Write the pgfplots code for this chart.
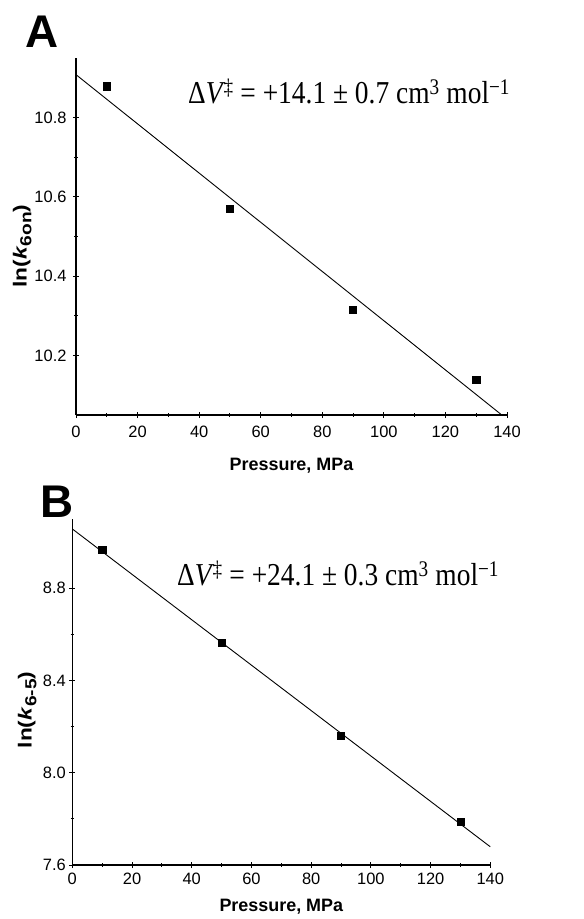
\documentclass[border=0pt]{standalone}
\usepackage{fontspec}
\setmainfont{Liberation Sans}
\newfontfamily\timesfont{Liberation Serif}
\usepackage{pgfplots}
\pgfplotsset{compat=1.18}

% common look of both panels
\pgfplotsset{
  panel/.style={
    scale only axis,
    axis lines=left,
    axis line style={-, line width=1.2bp},
    xmin=0, xmax=140,
    xtick={0,20,...,140},
    minor x tick num=1,
    minor y tick num=1,
    tick style={black, line width=1bp},
    major tick length=6bp,
    minor tick length=3.5bp,
    tick label style={font=\fontsize{16.5}{18}\selectfont},
    /pgf/number format/assume math mode=true,
    yticklabel style={/pgf/number format/fixed, /pgf/number format/fixed zerofill,
      /pgf/number format/precision=1},
    label style={font=\bfseries\fontsize{18}{20}\selectfont},
    xlabel={Pressure, MPa},
  },
  fitline/.style={black, line width=0.9bp, mark=none},
  pts/.style={only marks, mark=square*, mark size=3.6bp, black},
}
% y label: ln(k_sub), a little stretched along its length as in the original
\newcommand{\lnk}[1]{\scalebox{1.2}[1]{\fontsize{19}{21}\selectfont
  ln(\textit{k}\raisebox{-0.25em}{\fontsize{16}{18}\selectfont #1})}}
\newcommand{\dV}[1]{\scalebox{0.86}[1]{Δ\textit{V}\kern-0.06em\textsuperscript{‡} = #1 cm\textsuperscript{3} mol\textsuperscript{−1}}}

\begin{document}
\begin{tikzpicture}
\useasboundingbox (0,0) rectangle (584bp,-919bp);

% ---- panel A ----
\begin{axis}[panel,
  at={(76bp,-415bp)}, anchor=origin,
  width=431bp, height=357bp,
  ymin=10.05, ymax=10.95,
  ytick={10.2,10.4,10.6,10.8},
  xticklabel style={yshift=-4bp},
  yticklabel style={xshift=-3bp},
  xlabel style={at={(axis description cs:0.5,-0.143)}, anchor=center},
  ylabel style={at={(axis description cs:-0.125,0.473)}, anchor=center},
  ylabel={\lnk{6on}},
]
\addplot[fitline] coordinates {(0,10.908) (138,10.052)};
\addplot[pts] coordinates {(10,10.879) (50,10.571) (90,10.315) (130,10.139)};
\end{axis}

% ---- panel B ----
\begin{axis}[panel,
  at={(72.3bp,-865bp)}, anchor=origin,
  width=418bp, height=346bp,
  ymin=7.6, ymax=9.1,
  ytick={7.6,8.0,8.4,8.8},
  xticklabel style={yshift=-1bp},
  xlabel style={at={(axis description cs:0.5,-0.121)}, anchor=center},
  ylabel style={at={(axis description cs:-0.108,0.448)}, anchor=center},
  ylabel={\lnk{6-5}},
]
\addplot[fitline] coordinates {(0,9.057) (140,7.679)};
\addplot[pts] coordinates {(10,8.968) (50,8.564) (90,8.161) (130,7.787)};
\end{axis}

% panel letters and activation volumes
\node[anchor=base west, inner sep=0, font=\bfseries\fontsize{46}{50}\selectfont] at (25bp,-47bp) {A};
\node[anchor=base west, inner sep=0, font=\bfseries\fontsize{46}{50}\selectfont] at (40bp,-517bp) {B};
\node[anchor=base west, inner sep=0, font=\timesfont\fontsize{32}{36}\selectfont] at (188bp,-103bp)
  {\dV{+14.1 ± 0.7}};
\node[anchor=base west, inner sep=0, font=\timesfont\fontsize{32}{36}\selectfont] at (177bp,-585bp)
  {\dV{+24.1 ± 0.3}};
\end{tikzpicture}
\end{document}
